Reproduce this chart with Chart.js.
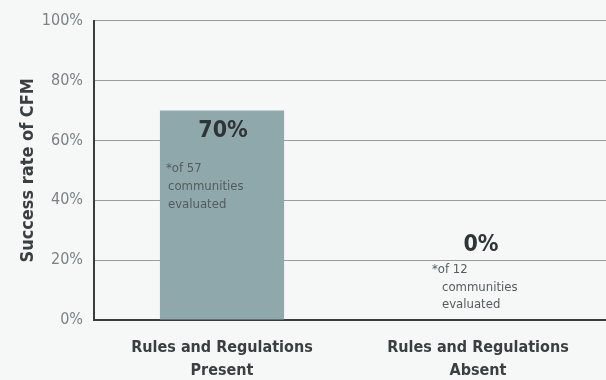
<!DOCTYPE html>
<html>
<head>
<meta charset="utf-8">
<script src="https://cdn.jsdelivr.net/npm/chart.js@4/dist/chart.umd.min.js"></script>
<style>
  html, body { margin: 0; padding: 0; background: #f6f8f8; }
  #wrap { width: 606px; height: 380px; }
</style>
</head>
<body>
<div id="wrap"><canvas id="c" width="606" height="380"></canvas></div>
<script>
// Success rate of community forest management, by presence of rules
const categories = [["Rules and Regulations", "Present"], ["Rules and Regulations", "Absent"]];
const successRates = [70, 0];
const communitiesEvaluated = [57, 12];
const yTickValues = [0, 20, 40, 60, 80, 100];

const FONT = '"Liberation Sans Narrow", "DejaVu Sans Condensed", "Roboto", sans-serif';

// Draws the percentage and sample-size note for each bar
const barNotes = {
  id: 'barNotes',
  afterDatasetsDraw(chart) {
    const ctx = chart.ctx;
    const meta = chart.getDatasetMeta(0);
    const y = chart.scales.y;
    meta.data.forEach((bar, i) => {
      const v = successRates[i];
      const cx = bar.x;
      const inside = v > 20;
      const top = inside ? y.getPixelForValue(v) + 21 : y.getPixelForValue(0) - 75;
      ctx.save();
      ctx.fillStyle = '#2f3536';
      ctx.font = 'bold 23px ' + FONT;
      ctx.textAlign = 'center';
      ctx.textBaseline = 'middle';
      ctx.fillText(v + '%', cx + (inside ? 1 : 3), top);
      ctx.fillStyle = '#555b5c';
      ctx.font = '13px ' + FONT;
      ctx.textAlign = 'left';
      const left = inside ? cx - 56 : cx - 46;
      const indent = inside ? 2 : 10;
      const lines = ['*of ' + communitiesEvaluated[i], 'communities', 'evaluated'];
      const gap = inside ? 18 : 17.5;
      const start = inside ? top + 37 : top + 25;
      lines.forEach((t, k) => {
        ctx.fillText(t, left + (k === 0 ? 0 : indent), start + k * gap);
      });
      ctx.restore();
    });
  }
};

const bg = {
  id: 'bg',
  beforeDraw(chart) {
    const ctx = chart.ctx;
    ctx.save();
    ctx.fillStyle = '#f6f8f8';
    ctx.fillRect(0, 0, chart.width, chart.height);
    ctx.restore();
  }
};

new Chart(document.getElementById('c'), {
  type: 'bar',
  data: {
    labels: categories,
    datasets: [{
      data: successRates,
      backgroundColor: '#8fa8ac',
      barPercentage: 0.97,
      categoryPercentage: 0.5
    }]
  },
  options: {
    responsive: false,
    animation: false,
    layout: { padding: { top: 20, right: 0, left: 0, bottom: 0 } },
    plugins: { legend: { display: false }, tooltip: { enabled: false } },
    scales: {
      x: {
        grid: { display: false },
        border: { color: '#3a3d3e', width: 2 },
        ticks: {
          color: '#3a3f41',
          font: { family: FONT, size: 16, weight: 'bold', lineHeight: 1.45 },
          padding: 8,
          maxRotation: 0
        },
        afterFit(s) { s.height = 60; }
      },
      y: {
        min: 0, max: 100,
        afterBuildTicks(s) { s.ticks = yTickValues.map(v => ({ value: v })); },
        grid: { color: '#9a9d9e', lineWidth: 1, drawTicks: false },
        border: { color: '#3a3d3e', width: 2 },
        ticks: {
          color: '#7c8182',
          font: { family: FONT, size: 16 },
          padding: 11,
          callback: v => v + '%'
        },
        title: {
          display: true,
          text: 'Success rate of CFM',
          color: '#3a3f41',
          font: { family: FONT, size: 18, weight: 'bold' },
          padding: { top: 18, bottom: 0 }
        },
        afterFit(s) { s.width = 94; }
      }
    }
  },
  plugins: [bg, barNotes]
});
</script>
</body>
</html>
